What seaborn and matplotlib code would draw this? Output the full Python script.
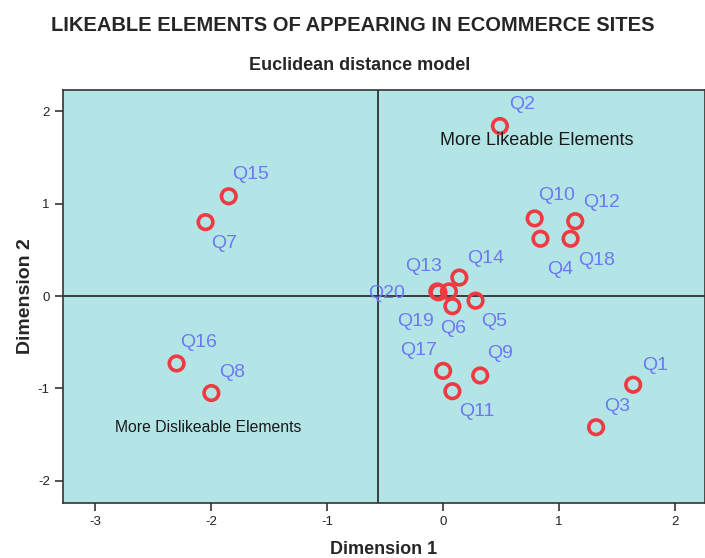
import pandas as pd
import matplotlib.pyplot as plt
import seaborn as sns

# Stimulus coordinates (Euclidean distance model)
labels = ['Q1', 'Q2', 'Q3', 'Q4', 'Q5', 'Q6', 'Q7', 'Q8', 'Q9', 'Q10',
          'Q11', 'Q12', 'Q13', 'Q14', 'Q15', 'Q16', 'Q17', 'Q18', 'Q19', 'Q20']
dim1 = [1.64, 0.49, 1.32, 0.84, 0.28, 0.08, -2.05, -2.00, 0.32, 0.79,
        0.08, 1.14, 0.05, 0.14, -1.85, -2.30, 0.00, 1.10, -0.04, -0.05]
dim2 = [-0.96, 1.84, -1.42, 0.62, -0.05, -0.11, 0.80, -1.05, -0.86, 0.84,
        -1.03, 0.81, 0.05, 0.20, 1.08, -0.73, -0.81, 0.62, 0.04, 0.05]

# label offsets (pixels) relative to each point
label_offsets = {
    'Q1': (22, 19), 'Q2': (22, 22), 'Q3': (21, 21), 'Q4': (20, -31),
    'Q5': (19, -21), 'Q6': (1, -22), 'Q7': (19, -21), 'Q8': (21, 21),
    'Q9': (20, 22), 'Q10': (22, 23), 'Q11': (24, -20), 'Q12': (26, 19),
    'Q13': (-25, 25), 'Q14': (26, 19), 'Q15': (22, 22), 'Q16': (22, 21),
    'Q17': (-25, 20), 'Q18': (26, -22), 'Q19': (-23, -29), 'Q20': (-51, -2),
}

df = pd.DataFrame({'label': labels, 'dim1': dim1, 'dim2': dim2})

sns.set_style('ticks')
plt.rcParams['font.family'] = ['Liberation Sans', 'DejaVu Sans']
plt.rcParams['axes.unicode_minus'] = False

fig = plt.figure(figsize=(7.05, 5.58), dpi=100)
ax = fig.add_axes([0.0894, 0.0986, 0.9106, 0.7401])
ax.set_facecolor('#b3e5e6')

ax.axvline(-0.56, color='#222222', lw=1.2, zorder=1)
ax.axhline(0, color='#222222', lw=1.2, zorder=1)

sns.scatterplot(data=df, x='dim1', y='dim2', ax=ax, s=110, marker='o',
                facecolor='none', edgecolor='#ee3b42', linewidth=2.6, zorder=3)

for _, r in df.iterrows():
    dx, dy = label_offsets[r['label']]
    ax.annotate(r['label'], (r['dim1'], r['dim2']), xytext=(dx, dy),
                textcoords='offset pixels', ha='center', va='center',
                fontsize=14, color='#6e78f2', zorder=4)

ax.text(0.81, 1.68, 'More Likeable Elements', ha='center', va='center',
        fontsize=13, color='#1a1a1a')
ax.text(-2.03, -1.42, 'More Dislikeable Elements', ha='center', va='center',
        fontsize=11.3, color='#1a1a1a')

ax.set_xlim(-3.28, 2.26)
ax.set_ylim(-2.24, 2.23)
ax.set_xticks([-3, -2, -1, 0, 1, 2])
ax.set_yticks([-2, -1, 0, 1, 2])
ax.tick_params(direction='out', length=6, width=1.2, colors='#333333',
               labelsize=9.5, labelcolor='#222222')
for sp in ax.spines.values():
    sp.set_color('#333333')
    sp.set_linewidth(1.2)

ax.set_xlabel('Dimension 1', fontsize=13, fontweight='bold', labelpad=9)
ax.set_ylabel('Dimension 2', fontsize=14, fontweight='bold', labelpad=3)

fig.text(0.5, 0.955, 'LIKEABLE ELEMENTS OF APPEARING IN ECOMMERCE SITES',
         ha='center', va='center', fontsize=14.5, fontweight='bold')
fig.text(0.51, 0.883, 'Euclidean distance model', ha='center', va='center',
         fontsize=13, fontweight='bold')

plt.savefig('out.png', dpi=100)
plt.close()
